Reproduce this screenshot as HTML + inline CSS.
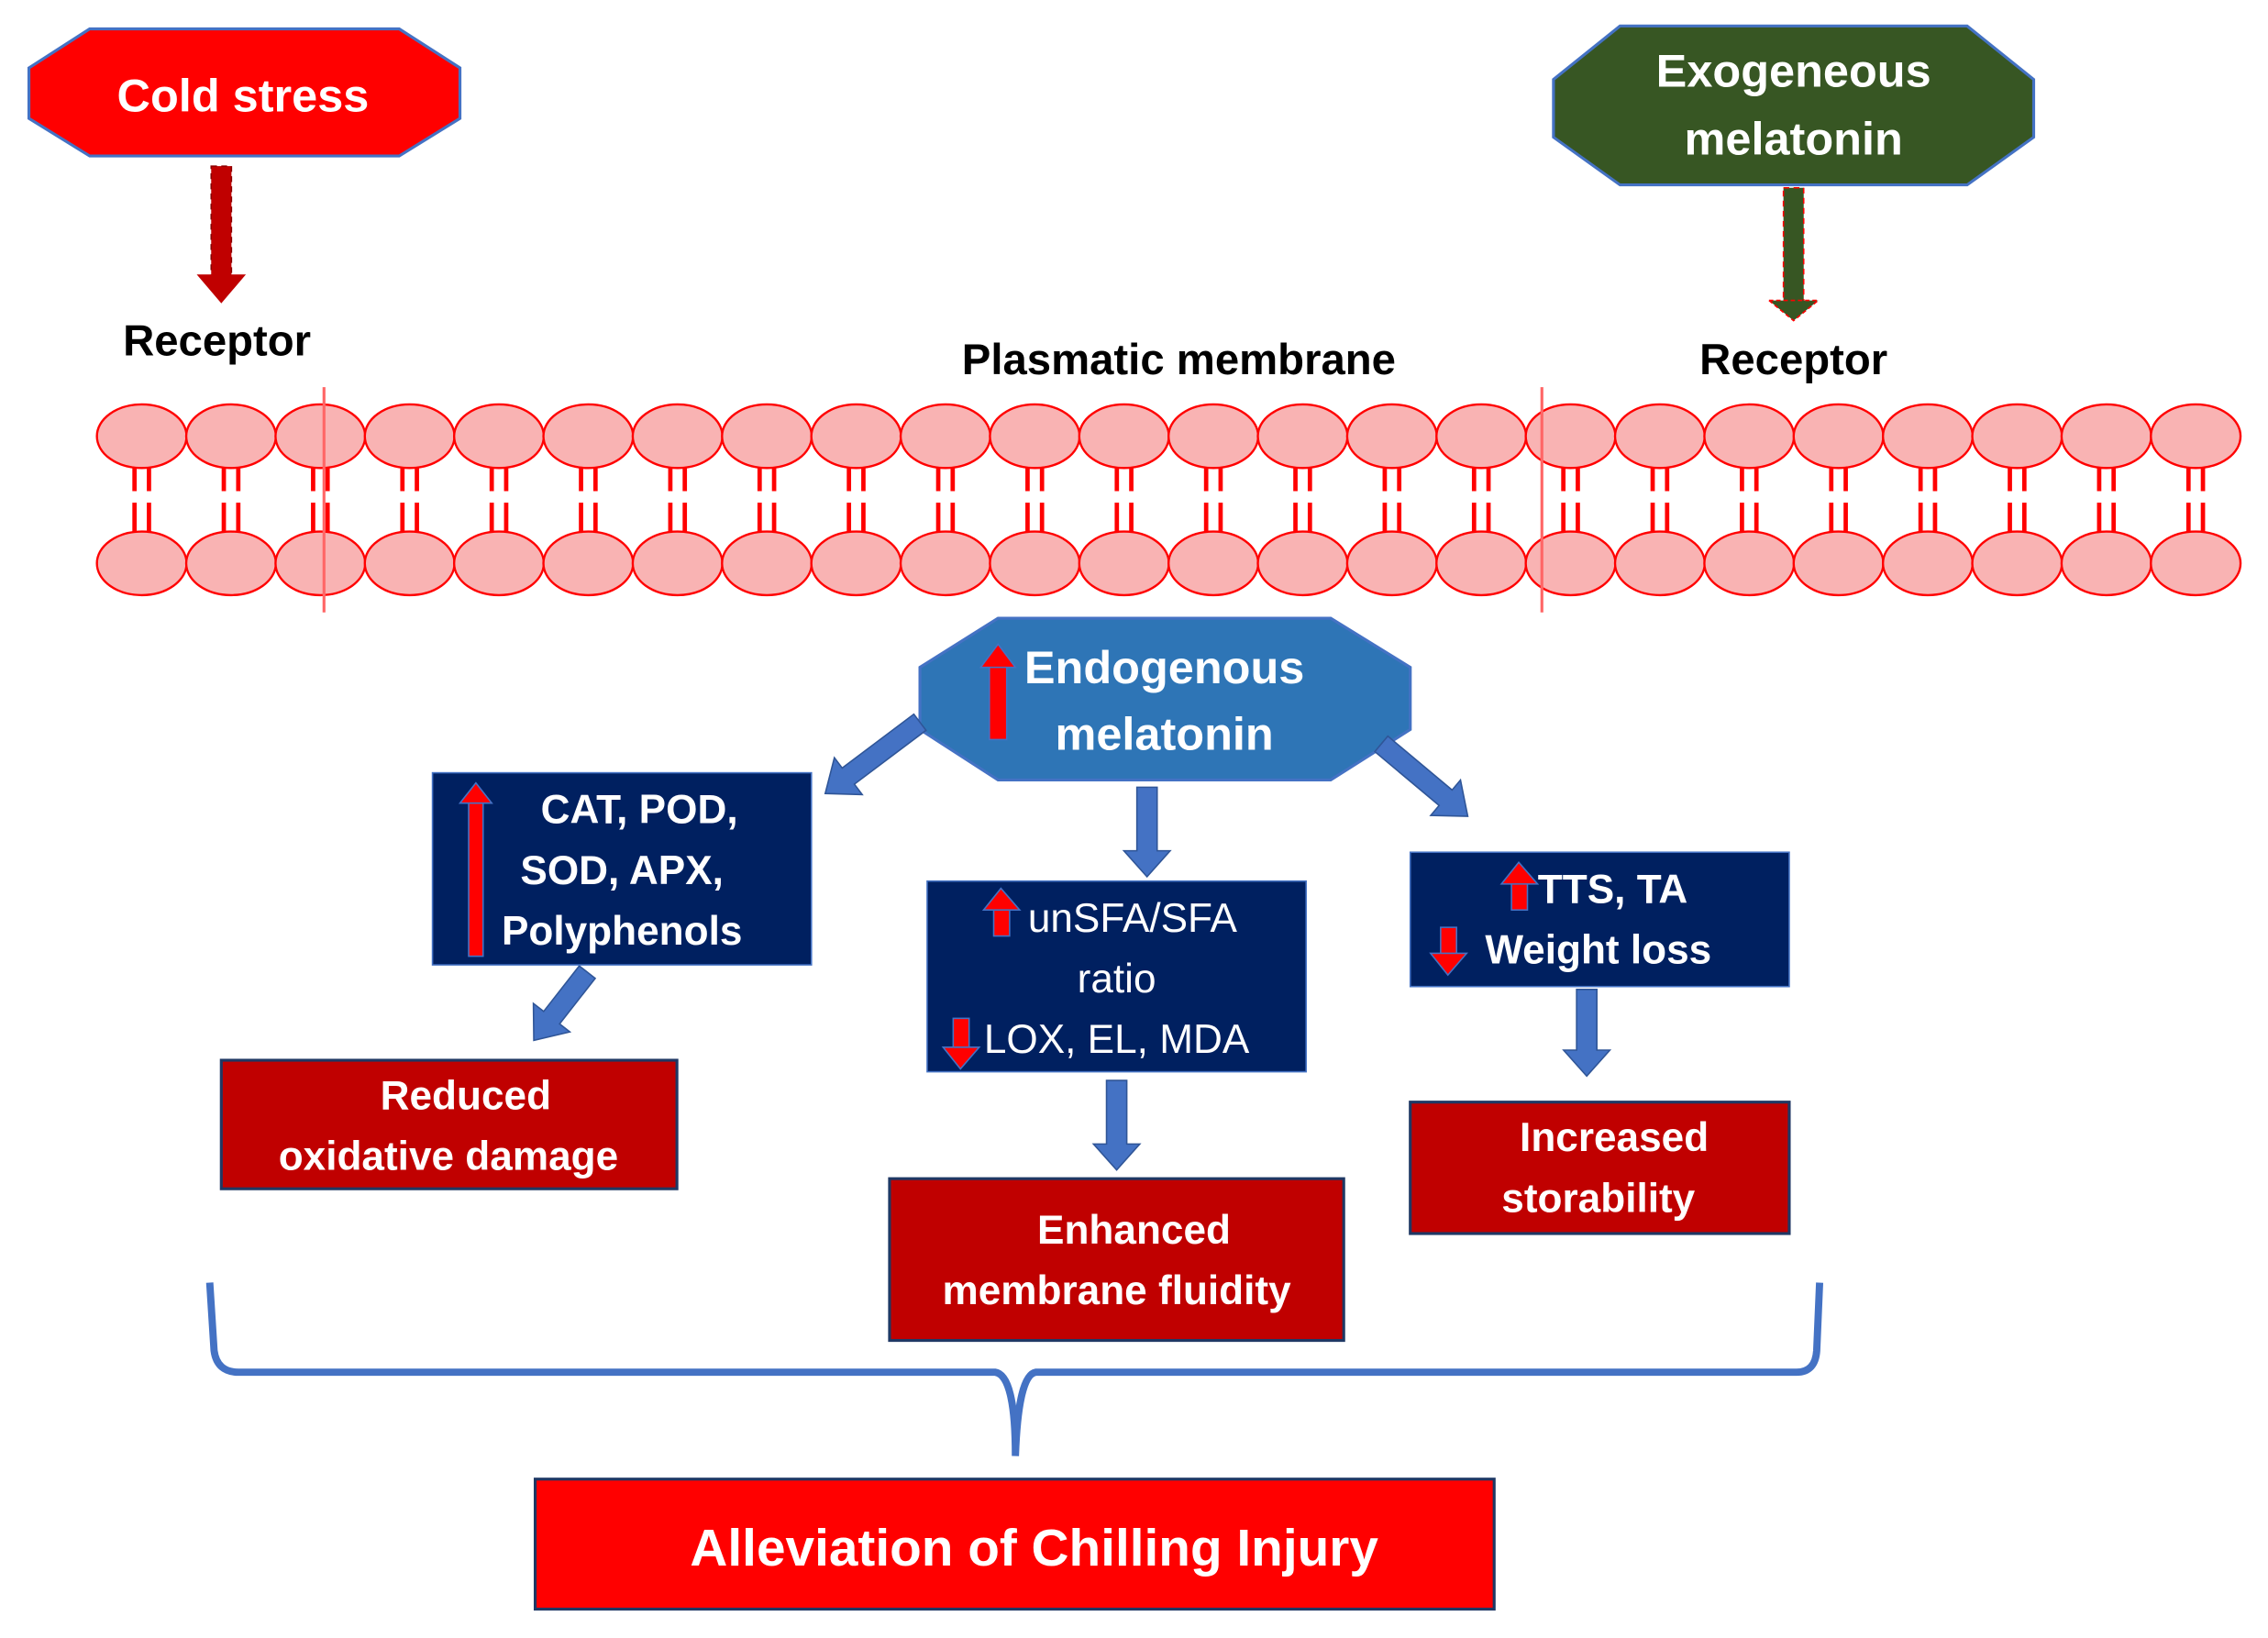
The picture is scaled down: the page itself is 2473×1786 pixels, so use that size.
<!DOCTYPE html>
<html><head><meta charset="utf-8"><style>
html,body{margin:0;padding:0;background:#fff;}
svg{display:block;}
text{font-family:"Liberation Sans",sans-serif;font-weight:bold;}
</style></head><body>
<svg width="2473" height="1786" viewBox="0 0 1568 1134" preserveAspectRatio="none" xmlns="http://www.w3.org/2000/svg">
<rect width="1568" height="1134" fill="#fff"/>
<!-- Cold stress -->
<polygon points="20,47 62,20 276,20 318,47 318,82 276,108 62,108 20,82" fill="#ff0000" stroke="#4472c4" stroke-width="2"/>
<text x="168" y="77" font-size="32" fill="#fff" text-anchor="middle">Cold stress</text>
<rect x="146" y="115" width="14" height="78" fill="#c00000" stroke="#8b0000" stroke-dasharray="4,3"/>
<polygon points="136,190 170,190 153,210" fill="#c00000"/>
<text x="150" y="246" font-size="30" fill="#000" text-anchor="middle">Receptor</text>
<!-- Exogeneous -->
<polygon points="1074,55 1120,18 1360,18 1406,55 1406,95 1360,128 1120,128 1074,95" fill="#375623" stroke="#4472c4" stroke-width="2"/>
<text x="1240" y="60" font-size="32" fill="#fff" text-anchor="middle">Exogeneous</text>
<text x="1240" y="107" font-size="32" fill="#fff" text-anchor="middle">melatonin</text>
<rect x="1233" y="130" width="14" height="80" fill="#375623" stroke="#ff0000" stroke-dasharray="4,3"/>
<polygon points="1223,208 1257,208 1240,222" fill="#375623" stroke="#ff0000" stroke-dasharray="3,2"/>
<text x="1240" y="259" font-size="30" fill="#000" text-anchor="middle">Receptor</text>
<text x="815" y="259" font-size="30" fill="#000" text-anchor="middle">Plasmatic membrane</text>
<!-- membrane -->
<g id="mem" stroke="#ff0000" stroke-width="1.5" fill="#f9b3b3"></g>
<line x1="224" y1="268" x2="224" y2="424" stroke="#ff6666" stroke-width="2"/>
<line x1="1066" y1="268" x2="1066" y2="424" stroke="#ff6666" stroke-width="2"/>
<!-- Endogenous -->
<polygon points="636,462 690,428 920,428 975,462 975,505 920,540 690,540 636,505" fill="#2e75b6" stroke="#4472c4" stroke-width="2"/>
<text x="805" y="473" font-size="32" fill="#fff" text-anchor="middle">Endogenous</text>
<text x="805" y="519" font-size="32" fill="#fff" text-anchor="middle">melatonin</text>
<rect x="684" y="460" width="12" height="52" fill="#ff0000" stroke="#4472c4"/>
<polygon points="678,462 702,462 690,446" fill="#ff0000" stroke="#4472c4"/>
<!-- blue arrows -->
<g fill="#4472c4" stroke="#2f5597" stroke-width="1">
<g transform="translate(636,500) rotate(53)"><polygon points="-7,0 7,0 7,62 16,62 0,82 -16,62 -7,62"/></g>
<g transform="translate(793,545)"><polygon points="-7,0 7,0 7,44 16,44 0,62 -16,44 -7,44"/></g>
<g transform="translate(955,515) rotate(-50)"><polygon points="-7,0 7,0 7,58 16,58 0,78 -16,58 -7,58"/></g>
<g transform="translate(406,673) rotate(38)"><polygon points="-7,0 7,0 7,40 16,40 0,60 -16,40 -7,40"/></g>
<g transform="translate(772,748)"><polygon points="-7,0 7,0 7,44 16,44 0,62 -16,44 -7,44"/></g>
<g transform="translate(1097,685)"><polygon points="-7,0 7,0 7,42 16,42 0,60 -16,42 -7,42"/></g>
</g>
<!-- navy boxes -->
<rect x="299" y="535" width="262" height="133" fill="#002060" stroke="#4472c4"/>
<rect x="324" y="552" width="10" height="110" fill="#ff0000" stroke="#4472c4"/>
<polygon points="318,556 340,556 329,542" fill="#ff0000" stroke="#4472c4"/>
<text x="442" y="570" font-size="28" fill="#fff" text-anchor="middle">CAT, POD,</text>
<text x="430" y="612" font-size="28" fill="#fff" text-anchor="middle">SOD, APX,</text>
<text x="430" y="654" font-size="28" fill="#fff" text-anchor="middle">Polyphenols</text>

<rect x="641" y="610" width="262" height="132" fill="#002060" stroke="#4472c4"/>
<rect x="687" y="628" width="11" height="20" fill="#ff0000" stroke="#4472c4"/>
<polygon points="680,630 705,630 692,615" fill="#ff0000" stroke="#4472c4"/>
<text x="783" y="645" font-size="28" fill="#fff" text-anchor="middle" style="font-weight:normal">unSFA/SFA</text>
<text x="772" y="687" font-size="28" fill="#fff" text-anchor="middle" style="font-weight:normal">ratio</text>
<rect x="659" y="705" width="11" height="22" fill="#ff0000" stroke="#4472c4"/>
<polygon points="652,725 677,725 664,740" fill="#ff0000" stroke="#4472c4"/>
<text x="772" y="729" font-size="28" fill="#fff" text-anchor="middle" style="font-weight:normal">LOX, EL, MDA</text>

<rect x="975" y="590" width="262" height="93" fill="#002060" stroke="#4472c4"/>
<rect x="1045" y="610" width="11" height="20" fill="#ff0000" stroke="#4472c4"/>
<polygon points="1038,612 1063,612 1050,597" fill="#ff0000" stroke="#4472c4"/>
<text x="1115" y="625" font-size="28" fill="#fff" text-anchor="middle">TTS, TA</text>
<rect x="996" y="642" width="11" height="20" fill="#ff0000" stroke="#4472c4"/>
<polygon points="989,660 1014,660 1001,675" fill="#ff0000" stroke="#4472c4"/>
<text x="1105" y="667" font-size="28" fill="#fff" text-anchor="middle">Weight loss</text>
<!-- red boxes -->
<rect x="153" y="734" width="315" height="89" fill="#c00000" stroke="#1f3864" stroke-width="2"/>
<text x="322" y="768" font-size="28" fill="#fff" text-anchor="middle">Reduced</text>
<text x="310" y="810" font-size="28" fill="#fff" text-anchor="middle">oxidative damage</text>
<rect x="615" y="816" width="314" height="112" fill="#c00000" stroke="#1f3864" stroke-width="2"/>
<text x="784" y="861" font-size="28" fill="#fff" text-anchor="middle">Enhanced</text>
<text x="772" y="903" font-size="28" fill="#fff" text-anchor="middle">membrane fluidity</text>
<rect x="975" y="763" width="262" height="91" fill="#c00000" stroke="#1f3864" stroke-width="2"/>
<text x="1116" y="797" font-size="28" fill="#fff" text-anchor="middle">Increased</text>
<text x="1105" y="839" font-size="28" fill="#fff" text-anchor="middle">storability</text>
<!-- brace -->
<path d="M145,888 L148,935 Q150,950 165,950 L688,950 Q702,952 702,1008 Q704,952 716,950 L1242,950 Q1255,950 1256,935 L1258,888" fill="none" stroke="#4472c4" stroke-width="5"/>
<rect x="370" y="1024" width="663" height="90" fill="#ff0000" stroke="#1f3864" stroke-width="2"/>
<text x="715" y="1084" font-size="36" fill="#fff" text-anchor="middle">Alleviation of Chilling Injury</text>
</svg>
<script>
(function(){
var g=document.getElementById('mem');var s='';
for(var i=0;i<24;i++){var x=98+i*61.74;
s+='<line x1="'+(x-5)+'" y1="322" x2="'+(x-5)+'" y2="370" stroke-width="3"/><line x1="'+(x+5)+'" y1="322" x2="'+(x+5)+'" y2="370" stroke-width="3"/>';
s+='<line x1="'+(x-5)+'" y1="340" x2="'+(x-5)+'" y2="348" stroke="#fff" stroke-width="4"/><line x1="'+(x+5)+'" y1="340" x2="'+(x+5)+'" y2="348" stroke="#fff" stroke-width="4"/>';
s+='<ellipse cx="'+x+'" cy="302" rx="31" ry="22"/><ellipse cx="'+x+'" cy="390" rx="31" ry="22"/>';}
g.innerHTML=s;})();
</script>
</body></html>
